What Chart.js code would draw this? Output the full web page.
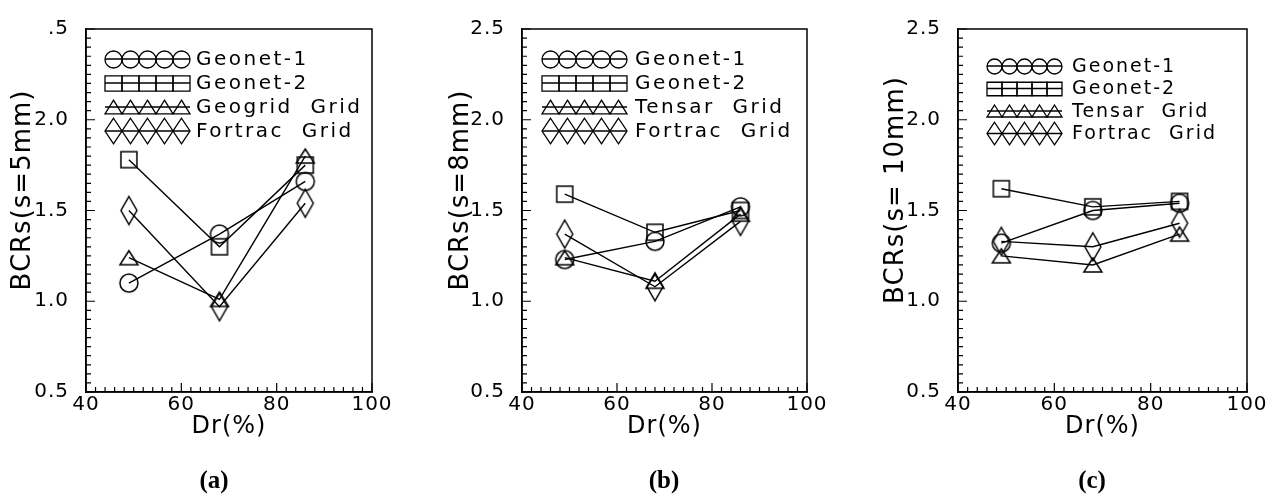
<!DOCTYPE html>
<html><head><meta charset="utf-8">
<script src="https://cdn.jsdelivr.net/npm/chart.js@4.4.1/dist/chart.umd.min.js"></script>
<style>
html,body{margin:0;padding:0;background:#fff;}
body{width:1282px;height:503px;position:relative;overflow:hidden;}
canvas{position:absolute;top:0;}
</style></head>
<body>
<canvas id="pa" width="430" height="503" style="left:0px"></canvas>
<canvas id="pb" width="425" height="503" style="left:430px"></canvas>
<canvas id="pc" width="427" height="503" style="left:855px"></canvas>
<script>
// ---------- data ----------
const drValues = [49, 68, 86];                 // Dr (%)
const seriesA = ['Geonet-1', 'Geonet-2', 'Geogrid  Grid', 'Fortrac  Grid'];
const seriesBC = ['Geonet-1', 'Geonet-2', 'Tensar  Grid', 'Fortrac  Grid'];

// panel (a) s = 5 mm
const a_geonet1 = [1.10, 1.37, 1.66];
const a_geonet2 = [1.78, 1.30, 1.75];
const a_grid    = [1.24, 1.01, 1.80];
const a_fortrac = [1.50, 0.97, 1.54];
// panel (b) s = 8 mm
const b_geonet1 = [1.23, 1.33, 1.52];
const b_geonet2 = [1.59, 1.38, 1.50];
const b_tensar  = [1.24, 1.11, 1.48];
const b_fortrac = [1.37, 1.08, 1.44];
// panel (c) s = 10 mm
const c_geonet1 = [1.32, 1.50, 1.54];
const c_geonet2 = [1.62, 1.52, 1.55];
const c_tensar  = [1.25, 1.20, 1.37];
const c_fortrac = [1.33, 1.30, 1.43];

const xTickLabels = ['40', '60', '80', '100'];
const yTickLabelsA = ['0.5', '1.0', '1.5', '2.0', '.5'];
const yTickLabels = ['0.5', '1.0', '1.5', '2.0', '2.5'];

// ---------- marker images ----------
function makeMarker(kind, w, h, lw) {
  const c = document.createElement('canvas');
  c.width = Math.round(w) + 4; c.height = Math.round(h) + 4;
  const g = c.getContext('2d');
  g.strokeStyle = '#000'; g.lineWidth = lw;
  const cx = c.width / 2, cy = c.height / 2;
  g.beginPath();
  if (kind === 'circle') g.arc(cx, cy, w / 2, 0, 2 * Math.PI);
  else if (kind === 'square') g.rect(cx - w / 2, cy - h / 2, w, h);
  else if (kind === 'triangle') { g.moveTo(cx, cy - h / 2); g.lineTo(cx + w / 2, cy + h / 2); g.lineTo(cx - w / 2, cy + h / 2); g.closePath(); }
  else { g.moveTo(cx, cy - h / 2); g.lineTo(cx + w / 2, cy); g.lineTo(cx, cy + h / 2); g.lineTo(cx - w / 2, cy); g.closePath(); }
  g.stroke();
  return c;
}
const kinds = ['circle', 'square', 'triangle', 'diamond'];
const markerDims = { circle: [18, 18], square: [16, 16], triangle: [18, 14], diamond: [16, 28] };
const plotMarkers = kinds.map(k => makeMarker(k, markerDims[k][0], markerDims[k][1], 1.5));

// ---------- plugins ----------
const spacingPlugin = {
  id: 'spacing',
  beforeUpdate(chart) { chart.ctx.letterSpacing = '1px'; },
  beforeDraw(chart) { chart.ctx.letterSpacing = '1px'; }
};

const framePlugin = {
  id: 'frame',
  afterDatasetsDraw(chart) {
    const { ctx, chartArea: { left, right, top, bottom }, scales: { x, y } } = chart;
    ctx.save();
    ctx.strokeStyle = '#000'; ctx.lineWidth = 1.5;
    ctx.strokeRect(left, top, right - left, bottom - top);
    ctx.lineWidth = 1.2;
    ctx.beginPath();
    for (let v = 40; v <= 100; v += 2) {
      const px = x.getPixelForValue(v);
      const len = (v % 20 === 0) ? 9 : 5;
      ctx.moveTo(px, bottom); ctx.lineTo(px, bottom - len);
    }
    for (let k = 0; k <= 40; k++) {
      const py = y.getPixelForValue(0.5 + k * 0.05);
      const len = (k % 10 === 0) ? 9 : 5;
      ctx.moveTo(left, py); ctx.lineTo(left + len, py);
    }
    ctx.stroke();
    ctx.restore();
  }
};

const legendPlugin = {
  id: 'inLegend',
  afterDraw(chart, args, o) {
    const { ctx, chartArea } = chart;
    ctx.save();
    chart.data.datasets.forEach((ds, i) => {
      const y = chartArea.top + o.firstRow + i * o.rowGap;
      const x0 = chartArea.left + o.dx;
      ctx.strokeStyle = '#000'; ctx.lineWidth = 1.3;
      ctx.beginPath(); ctx.moveTo(x0, y); ctx.lineTo(x0 + 5 * o.step, y); ctx.stroke();
      const img = o.markers[i];
      for (let k = 0; k < 5; k++) {
        const cx = x0 + o.step / 2 + k * o.step;
        ctx.drawImage(img, Math.round(cx - img.width / 2), Math.round(y - img.height / 2));
      }
      ctx.fillStyle = '#000';
      ctx.font = o.fontSize + 'px "DejaVu Sans"';
      ctx.letterSpacing = o.spacing + 'px';
      ctx.textBaseline = 'middle'; ctx.textAlign = 'left';
      ctx.fillText(ds.label, chartArea.left + o.textDx, y + 1);
    });
    ctx.restore();
  }
};

const textPlugin = {
  id: 'panelText',
  afterDraw(chart, args, o) {
    const ctx = chart.ctx;
    ctx.save();
    ctx.fillStyle = '#000';
    ctx.textAlign = 'center'; ctx.textBaseline = 'middle';
    // vertical axis title
    ctx.letterSpacing = '1px';
    ctx.font = '26px "DejaVu Sans"';
    ctx.translate(o.yTitleX, o.yTitleY);
    ctx.rotate(-Math.PI / 2);
    ctx.fillText(o.yTitle, 0, 0);
    ctx.setTransform(1, 0, 0, 1, 0, 0);
    // panel letter
    ctx.letterSpacing = '0px';
    ctx.font = 'bold 25px "Liberation Serif"';
    ctx.fillText(o.sub, o.subX, o.subY);
    ctx.restore();
  }
};

// ---------- panel factory ----------
function makePanel(id, cfg) {
  const datasets = cfg.names.map((name, i) => ({
    label: name,
    data: drValues.map((x, j) => ({ x: x, y: cfg.values[i][j] })),
    borderColor: '#000',
    borderWidth: 1.4,
    backgroundColor: 'rgba(0,0,0,0)',
    pointStyle: plotMarkers[i],
    pointRadius: 9,
    tension: 0,
    fill: false
  }));
  const lw = cfg.legendW;
  const lm = kinds.map(k => makeMarker(k, lw,
    k === 'diamond' ? lw * 1.5 : (k === 'triangle' ? lw * 0.8 : (k === 'square' ? lw * 0.9 : lw)), 1.3));
  new Chart(document.getElementById(id), {
    type: 'line',
    data: { datasets },
    options: {
      responsive: false,
      animation: false,
      events: [],
      layout: { padding: { left: 0, right: cfg.padRight, top: 16, bottom: 51 } },
      scales: {
        x: {
          type: 'linear', min: 40, max: 100,
          ticks: { stepSize: 20, color: '#000', padding: 1, font: { family: 'DejaVu Sans', size: 20 },
                   callback: (v, idx) => xTickLabels[idx] },
          grid: { display: false, drawTicks: false },
          border: { display: true, color: '#000', width: 1.5 },
          title: { display: true, text: 'Dr(%)', color: '#000', font: { family: 'DejaVu Sans', size: 24 }, padding: { top: 0, bottom: 11 } },
          afterFit(s) { s.height = 60; }
        },
        y: {
          type: 'linear', min: 0.5, max: 2.5,
          ticks: { stepSize: 0.5, color: '#000', padding: 17, font: { family: 'DejaVu Sans', size: 20 },
                   callback: (v, idx) => cfg.yLabels[idx] },
          grid: { display: false, drawTicks: false },
          border: { display: true, color: '#000', width: 1.5 },
          title: { display: false },
          afterFit(s) { s.width = cfg.left; }
        }
      },
      plugins: {
        legend: { display: false },
        tooltip: { enabled: false },
        inLegend: { firstRow: cfg.legFirst, rowGap: cfg.legGap, dx: cfg.legDx, step: cfg.legendW, textDx: cfg.textDx, markers: lm, fontSize: cfg.legFont, spacing: cfg.legSpacing },
        panelText: { yTitle: cfg.yTitle, yTitleX: cfg.yTitleX, yTitleY: 190, sub: cfg.sub, subX: cfg.subX, subY: 482 }
      }
    },
    plugins: [spacingPlugin, framePlugin, legendPlugin, textPlugin]
  });
}

makePanel('pa', {
  names: seriesA, values: [a_geonet1, a_geonet2, a_grid, a_fortrac],
  yLabels: yTickLabelsA, yTitle: 'BCRs(s=5mm)', yTitleX: 23,
  left: 86, padRight: 58,
  legFirst: 30, legGap: 24, legDx: 19, legendW: 17, textDx: 110, legFont: 20, legSpacing: 2.5,
  sub: '(a)', subX: 214
});
makePanel('pb', {
  names: seriesBC, values: [b_geonet1, b_geonet2, b_tensar, b_fortrac],
  yLabels: yTickLabels, yTitle: 'BCRs(s=8mm)', yTitleX: 31,
  left: 92, padRight: 48,
  legFirst: 30, legGap: 24, legDx: 20, legendW: 17, textDx: 113, legFont: 20, legSpacing: 2.5,
  sub: '(b)', subX: 234
});
makePanel('pc', {
  names: seriesBC, values: [c_geonet1, c_geonet2, c_tensar, c_fortrac],
  yLabels: yTickLabels, yTitle: 'BCRs(s= 10mm)', yTitleX: 41,
  left: 103, padRight: 35,
  legFirst: 37, legGap: 22.5, legDx: 29, legendW: 15, textDx: 114, legFont: 19, legSpacing: 2,
  sub: '(c)', subX: 237
});
</script>
</body></html>
